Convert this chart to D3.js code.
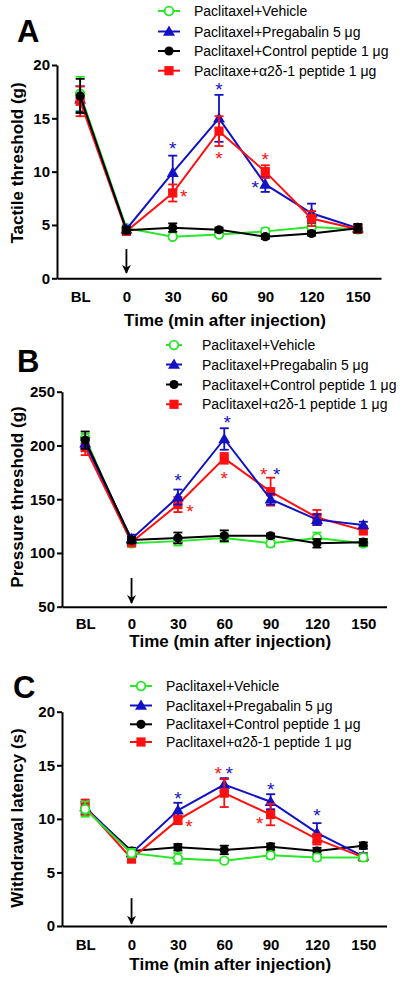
<!DOCTYPE html>
<html>
<head>
<meta charset="utf-8">
<script src="https://cdn.jsdelivr.net/npm/d3@7"></script>
<style>
html,body{margin:0;padding:0;background:#fff;}
svg{display:block;font-family:Arial,"Liberation Sans",sans-serif;}
</style>
</head>
<body>
<svg id="chart" width="400" height="984"></svg>
<script>
// ---------------- DATA ----------------
const timeLabels = ["BL", "0", "30", "60", "90", "120", "150"];

const legendNamesA = ["Paclitaxel+Vehicle", "Paclitaxel+Pregabalin 5 μg", "Paclitaxel+Control peptide 1 μg", "Paclitaxe+α2δ-1 peptide 1 μg"];
const legendNamesBC = ["Paclitaxel+Vehicle", "Paclitaxel+Pregabalin 5 μg", "Paclitaxel+Control peptide 1 μg", "Paclitaxel+α2δ-1 peptide 1 μg"];

// Panel A: tactile threshold (g)
const tactileVehicle    = [17.3, 4.7, 3.9, 4.1, 4.4, 4.8, 4.6];
const tactileVehicleSem = [1.6, 0.3, 0.2, 0.2, 0.3, 0.3, 0.3];
const tactilePregabalin    = [16.8, 4.6, 9.9, 15.0, 8.8, 6.1, 4.7];
const tactilePregabalinSem = [1.2, 0.3, 1.6, 2.2, 0.7, 0.9, 0.3];
const tactileControl    = [17.1, 4.5, 4.75, 4.55, 3.9, 4.2, 4.7];
const tactileControlSem = [1.6, 0.3, 0.4, 0.2, 0.2, 0.2, 0.4];
const tactilePeptide    = [16.6, 4.4, 8.0, 13.8, 10.0, 5.6, 4.6];
const tactilePeptideSem = [1.4, 0.3, 0.8, 1.4, 0.6, 0.7, 0.3];
// significance marks: time, series index, y value
const tactileStarTimes  = ["30", "30", "60", "60", "90", "90"];
const tactileStarSeries = [1, 3, 1, 3, 3, 1];
const tactileStarValues = [12.5, 8.0, 18.0, 11.6, 11.5, 8.8];

// Panel B: pressure threshold (g)
const pressureVehicle    = [207, 109, 111, 114, 109, 114, 109];
const pressureVehicleSem = [4, 3, 4, 4, 3, 5, 3];
const pressurePregabalin    = [202, 113, 152, 206, 150, 131, 126];
const pressurePregabalinSem = [5, 4, 7, 10, 5, 5, 3];
const pressureControl    = [205, 112, 114, 116, 116, 109, 110];
const pressureControlSem = [8, 3, 5, 5, 2, 4, 3];
const pressurePeptide    = [198, 110, 145, 188, 157, 133, 121];
const pressurePeptideSem = [7, 4, 7, 5, 13, 7, 4];
const pressureStarTimes  = ["30", "30", "60", "60", "90", "90"];
const pressureStarSeries = [1, 3, 1, 3, 3, 1];
const pressureStarValues = [171, 141.5, 225, 172.5, 176.5, 176.5];

// Panel C: withdrawal latency (s)
const latencyVehicle    = [10.9, 6.8, 6.3, 6.1, 6.6, 6.4, 6.4];
const latencyVehicleSem = [0.7, 0.4, 0.5, 0.2, 0.3, 0.3, 0.3];
const latencyPregabalin    = [11.1, 6.8, 10.8, 13.2, 11.6, 8.7, 6.5];
const latencyPregabalinSem = [0.5, 0.4, 0.7, 0.6, 0.7, 0.9, 0.3];
const latencyControl    = [11.0, 7.0, 7.35, 7.1, 7.4, 7.0, 7.5];
const latencyControlSem = [0.6, 0.3, 0.3, 0.4, 0.3, 0.3, 0.3];
const latencyPeptide    = [11.1, 6.3, 9.9, 12.4, 10.4, 8.1, 6.4];
const latencyPeptideSem = [0.7, 0.4, 0.4, 1.3, 1.0, 0.5, 0.3];
const latencyStarTimes  = ["30", "30", "60", "60", "90", "90", "120"];
const latencyStarSeries = [1, 3, 3, 1, 1, 3, 1];
const latencyStarValues = [12.25, 9.6, 14.6, 14.6, 13.1, 9.85, 10.6];

// ---------------- STYLE / LAYOUT ----------------
const colors = ["#26e826", "#1212c4", "#000000", "#ff1010"];
const shapes = ["openCircle", "triangle", "circle", "square"];

const panels = [
  {
    label: "A", labelX: 17, labelY: 42,
    series: [
      [tactileVehicle, tactileVehicleSem], [tactilePregabalin, tactilePregabalinSem],
      [tactileControl, tactileControlSem], [tactilePeptide, tactilePeptideSem]
    ],
    stars: {times: tactileStarTimes, series: tactileStarSeries, values: tactileStarValues},
    starDx: [0, 11, 0, 0, 0, -10],
    legend: legendNamesA, legX0: 158, legX1: 180, legTextX: 194, legRows: [11, 31.5, 51, 70.7],
    x0: 57, x1: 381, yTop: 65, yBottom: 278.3, domain: [0, 20], ticks: [0, 5, 10, 15, 20],
    yTitle: "Tactile threshold (g)", yTitleX: 17, yTitleY: 163,
    xTitleY: 320, tickPad: 13,
    arrow: [2.75, 0.5],
    order: [0, 1, 3, 2]
  },
  {
    label: "B", labelX: 17, labelY: 372,
    series: [
      [pressureVehicle, pressureVehicleSem], [pressurePregabalin, pressurePregabalinSem],
      [pressureControl, pressureControlSem], [pressurePeptide, pressurePeptideSem]
    ],
    stars: {times: pressureStarTimes, series: pressureStarSeries, values: pressureStarValues},
    starDx: [0, 12, 3, 0, -7, 6],
    legend: legendNamesBC, legX0: 166, legX1: 182, legTextX: 202, legRows: [345, 364.5, 384.5, 404.3],
    x0: 62, x1: 386.5, yTop: 391.7, yBottom: 606.7, domain: [50, 250], ticks: [50, 100, 150, 200, 250],
    yTitle: "Pressure threshold (g)", yTitleX: 17, yTitleY: 497,
    xTitleY: 641, tickPad: 12,
    arrow: [76.7, 53.4],
    order: [0, 3, 1, 2]
  },
  {
    label: "C", labelX: 13, labelY: 698,
    series: [
      [latencyVehicle, latencyVehicleSem], [latencyPregabalin, latencyPregabalinSem],
      [latencyControl, latencyControlSem], [latencyPeptide, latencyPeptideSem]
    ],
    stars: {times: latencyStarTimes, series: latencyStarSeries, values: latencyStarValues},
    starDx: [0, 11, -6, 5, 0, -11, 0],
    legend: legendNamesBC, legX0: 130, legX1: 152, legTextX: 166, legRows: [686, 705.5, 724.3, 742],
    x0: 62, x1: 386.5, yTop: 711.7, yBottom: 926, domain: [0, 20], ticks: [0, 5, 10, 15, 20],
    yTitle: "Withdrawal latency (s)", yTitleX: 17, yTitleY: 818,
    xTitleY: 964, tickPad: 13,
    arrow: [2.6, 0.2],
    order: [2, 1, 3, 0]
  }
];

const svg = d3.select("#chart");
const defs = svg.append("defs");
defs.append("marker").attr("id", "arrowhead")
  .attr("viewBox", "0 0 10 10").attr("refX", 9).attr("refY", 5)
  .attr("markerWidth", 9).attr("markerHeight", 9).attr("markerUnits", "userSpaceOnUse")
  .attr("orient", "auto")
  .append("path").attr("d", "M0,0 L10,5 L0,10 L3,5 Z").attr("fill", "#000");

function drawMarker(g, shape, color, cx, cy) {
  if (shape === "openCircle") {
    g.append("circle").attr("cx", cx).attr("cy", cy).attr("r", 4.3)
      .attr("fill", "#fff").attr("stroke", color).attr("stroke-width", 1.8);
  } else if (shape === "circle") {
    g.append("circle").attr("cx", cx).attr("cy", cy).attr("r", 4.6).attr("fill", color);
  } else if (shape === "triangle") {
    g.append("path").attr("d", d3.symbol(d3.symbolTriangle, 62)())
      .attr("transform", `translate(${cx},${cy + 0.8})`).attr("fill", color);
  } else {
    g.append("rect").attr("x", cx - 4.6).attr("y", cy - 4.6).attr("width", 9.2).attr("height", 9.2).attr("fill", color);
  }
}

panels.forEach(p => {
  const g = svg.append("g");
  const x = d3.scalePoint().domain(timeLabels).range([p.x0, p.x1]).padding(0.5);
  const y = d3.scaleLinear().domain(p.domain).range([p.yBottom, p.yTop]);

  // panel label
  g.append("text").attr("x", p.labelX).attr("y", p.labelY)
    .attr("font-size", 31).attr("font-weight", "bold").text(p.label);

  // y axis
  const ya = g.append("g").attr("transform", `translate(${p.x0},0)`)
    .call(d3.axisLeft(y).tickValues(p.ticks).tickSize(5).tickPadding(2).tickSizeOuter(0));
  ya.select(".domain").attr("stroke-width", 2).attr("stroke", "#000");
  ya.selectAll(".tick line").attr("stroke-width", 2).attr("stroke", "#000");
  ya.selectAll("text").attr("font-size", 15).attr("font-weight", "bold")
    .attr("font-family", "Arial, 'Liberation Sans', sans-serif").attr("fill", "#000");

  // x axis
  const xa = g.append("g").attr("transform", `translate(0,${p.yBottom})`)
    .call(d3.axisBottom(x).tickSize(0).tickPadding(p.tickPad).tickSizeOuter(0));
  xa.select(".domain").attr("stroke-width", 2).attr("stroke", "#000");
  xa.selectAll("text").attr("font-size", 15).attr("font-weight", "bold")
    .attr("font-family", "Arial, 'Liberation Sans', sans-serif").attr("fill", "#000");

  // axis titles
  g.append("text").attr("transform", `translate(${p.yTitleX},${p.yTitleY}) rotate(-90)`)
    .attr("text-anchor", "middle").attr("dominant-baseline", "central")
    .attr("font-size", 17).attr("font-weight", "bold").text(p.yTitle);
  g.append("text").attr("x", (p.x0 + p.x1) / 2 + 6).attr("y", p.xTitleY)
    .attr("text-anchor", "middle").attr("dominant-baseline", "central")
    .attr("font-size", 17).attr("font-weight", "bold").text("Time (min after injection)");

  // injection arrow
  g.append("line").attr("x1", x("0")).attr("x2", x("0"))
    .attr("y1", y(p.arrow[0])).attr("y2", y(p.arrow[1]))
    .attr("stroke", "#000").attr("stroke-width", 1.8).attr("marker-end", "url(#arrowhead)");

  // series
  const line = d3.line().x((d, i) => x(timeLabels[i])).y(d => y(d));
  p.order.forEach(si => {
    const [vals, sem] = p.series[si];
    const c = colors[si];
    const sg = g.append("g");
    sg.append("path").datum(vals).attr("d", line).attr("fill", "none")
      .attr("stroke", c).attr("stroke-width", 2);
    vals.forEach((v, i) => {
      const cx = x(timeLabels[i]);
      const yt = y(v + sem[i]), yb = y(v - sem[i]);
      sg.append("line").attr("x1", cx).attr("x2", cx).attr("y1", yt).attr("y2", yb)
        .attr("stroke", c).attr("stroke-width", 1.8);
      [yt, yb].forEach(yy => sg.append("line").attr("x1", cx - 4.5).attr("x2", cx + 4.5)
        .attr("y1", yy).attr("y2", yy).attr("stroke", c).attr("stroke-width", 1.8));
      drawMarker(sg, shapes[si], c, cx, y(v));
    });
  });

  // significance stars
  p.stars.times.forEach((t, k) => {
    g.append("text").attr("x", x(t) + p.starDx[k]).attr("y", y(p.stars.values[k]) + 10)
      .attr("text-anchor", "middle").attr("font-size", 19)
      .attr("fill", colors[p.stars.series[k]]).text("*");
  });

  // legend
  p.legend.forEach((name, i) => {
    const ry = p.legRows[i];
    g.append("line").attr("x1", p.legX0).attr("x2", p.legX1).attr("y1", ry).attr("y2", ry)
      .attr("stroke", colors[i]).attr("stroke-width", 2);
    drawMarker(g, shapes[i], colors[i], (p.legX0 + p.legX1) / 2, ry);
    g.append("text").attr("x", p.legTextX).attr("y", ry).attr("dominant-baseline", "central")
      .attr("font-size", 14).attr("fill", "#000").text(name);
  });
});
</script>
</body>
</html>
